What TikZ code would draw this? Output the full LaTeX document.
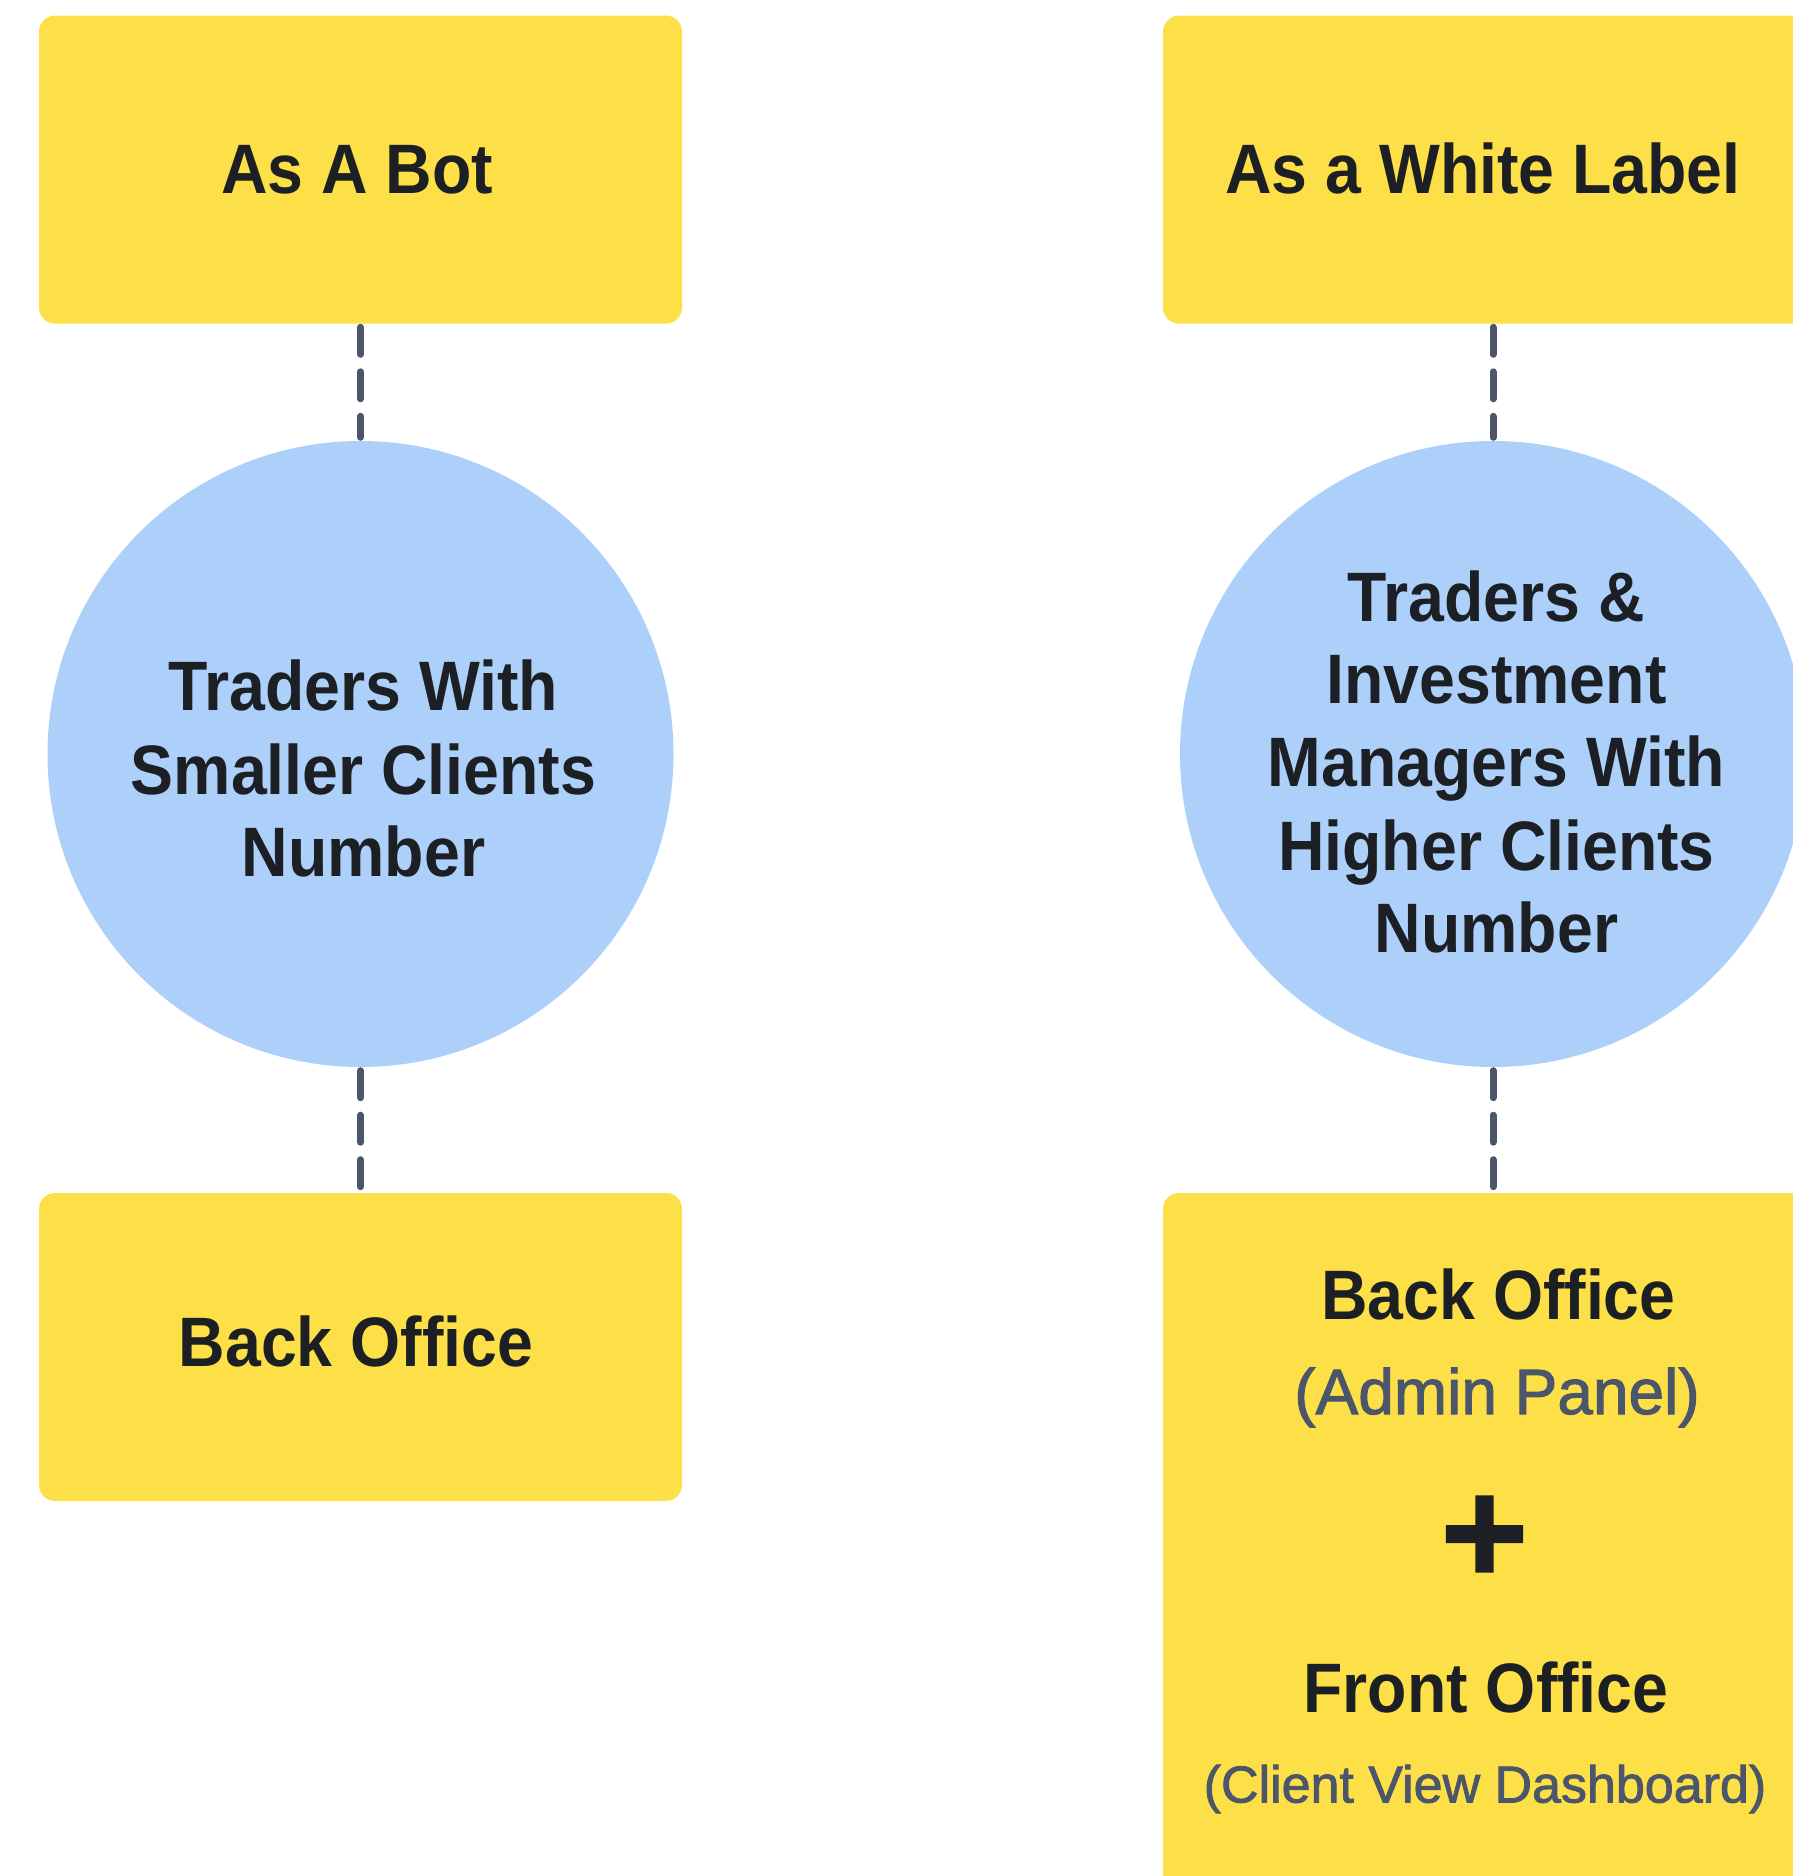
\documentclass[tikz,border=0pt]{standalone}
\usepackage{fontspec}
\newfontfamily\bfont[FakeStretch=0.92]{Liberation Sans}
\newfontfamily\gfont[FakeBold=1.6]{Liberation Sans}
\newfontfamily\pfont[FakeBold=4]{DejaVu Sans}
\definecolor{yel}{HTML}{FDE047}
\definecolor{blu}{HTML}{ADD0FA}
\definecolor{ink}{HTML}{1C1F24}
\definecolor{slate}{HTML}{4B566B}
\begin{document}
\begin{tikzpicture}[x=1pt,y=-1pt,
  ybox/.style={fill=yel, rounded corners=16pt, minimum width=643pt, minimum height=308pt, inner sep=0pt, draw=none},
  bcirc/.style={circle, fill=blu, minimum size=626pt, inner sep=0pt, draw=none},
  dline/.style={draw=slate, line width=7pt, line cap=round, dash pattern=on 27pt off 17.5pt, shorten <=3.5pt, shorten >=3.5pt},
  btxt/.style={anchor=base, inner sep=0pt, text=ink, font=\bfont\bfseries\fontsize{70}{83}\selectfont},
  gtxtA/.style={anchor=base, inner sep=0pt, text=slate, font=\gfont\fontsize{64}{76}\selectfont},
  gtxtB/.style={anchor=base, inner sep=0pt, text=slate, font=\gfont\fontsize{52}{62}\selectfont},
  ptxt/.style={anchor=center, inner sep=0pt, text=ink, font=\pfont\bfseries\fontsize{116}{116}\selectfont}
]
\useasboundingbox (0,0) rectangle (1793,1876);
\clip (0,0) rectangle (1793,1876);
% left column
\node[ybox] (bot) at (360.5,169.6) {};
\node[bcirc] (lc) at (360.5,754) {};
\node[ybox] (lbo) at (360.5,1347) {};
% right column
\node[ybox] (wl) at (1484.5,169.6) {};
\node[bcirc] (rc) at (1493,754) {};
\node[ybox, minimum height=757pt] (rbo) at (1484.5,1571.5) {};
% connectors
\draw[dline] (bot.south) -- (lc.north);
\draw[dline] (lc.south) -- (lbo.north);
\draw[dline] (rc.north |- wl.south) -- (rc.north);
\draw[dline] (rc.south) -- (rc.south |- rbo.north);
% texts left
\node[btxt] (t1) at (357,193.5) {As A Bot};
\node[btxt] (t2) at (363.5,710.7) {Traders With};
\node[btxt] (t3) at (363.5,794) {Smaller Clients};
\node[btxt] (t4) at (363.5,876.7) {Number};
\node[btxt] (t5) at (356,1366.7) {Back Office};
% texts right
\node[btxt] (r1) at (1483,193.3) {As a White Label};
\node[btxt] (r2) at (1496.5,621) {Traders \&};
\node[btxt] (r3) at (1496.5,703.6) {Investment};
\node[btxt] (r4) at (1496.5,786) {Managers With};
\node[btxt] (r5) at (1496.5,870) {Higher Clients};
\node[btxt] (r6) at (1496.5,952.7) {Number};
\node[btxt] (r7) at (1498.5,1319) {Back Office};
\node[gtxtA] (r8) at (1497,1414) {(Admin Panel)};
\node[ptxt] (r9) at (1484.5,1534) {+};
\node[btxt] (r10) at (1486,1712.5) {Front Office};
\node[gtxtB] (r11) at (1485,1802.5) {(Client View Dashboard)};
\end{tikzpicture}
\end{document}
